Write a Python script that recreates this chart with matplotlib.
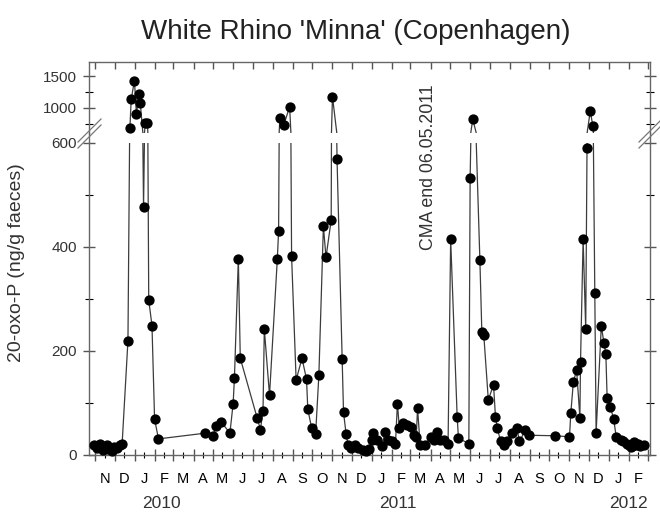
import numpy as np
import pandas as pd
import matplotlib
matplotlib.use('Agg')
import matplotlib.pyplot as plt
import matplotlib.dates as mdates
from matplotlib.lines import Line2D
from matplotlib.ticker import NullFormatter, NullLocator, FuncFormatter

plt.rcParams['font.family'] = ['Liberation Sans', 'DejaVu Sans']

# sampling dates and 20-oxo-P values (ng/g faeces)
dates = ['2009-10-29', '2009-11-03', '2009-11-08', '2009-11-12', '2009-11-18', '2009-11-21',
         '2009-11-26', '2009-11-29', '2009-12-04', '2009-12-08', '2009-12-12', '2009-12-21',
         '2009-12-24', '2009-12-26', '2009-12-31', '2010-01-03', '2010-01-07', '2010-01-09',
         '2010-01-14', '2010-01-17', '2010-01-20', '2010-01-22', '2010-01-27', '2010-01-31',
         '2010-02-06', '2010-04-19', '2010-05-01', '2010-05-06', '2010-05-14', '2010-05-27',
         '2010-06-01', '2010-06-03', '2010-06-09', '2010-06-12', '2010-07-08', '2010-07-13',
         '2010-07-17', '2010-07-19', '2010-07-27', '2010-08-08', '2010-08-10', '2010-08-12',
         '2010-08-18', '2010-08-27', '2010-08-30', '2010-09-06', '2010-09-15', '2010-09-22',
         '2010-09-24', '2010-09-30', '2010-10-06', '2010-10-11', '2010-10-18', '2010-10-22',
         '2010-10-30', '2010-11-01', '2010-11-08', '2010-11-16', '2010-11-18', '2010-11-22',
         '2010-11-25', '2010-11-29', '2010-12-06', '2010-12-11', '2010-12-18', '2010-12-23',
         '2010-12-27', '2011-01-01', '2011-01-03', '2011-01-08', '2011-01-16', '2011-01-21',
         '2011-01-26', '2011-02-01', '2011-02-06', '2011-02-09', '2011-02-12', '2011-02-18',
         '2011-02-24', '2011-03-02', '2011-03-06', '2011-03-10', '2011-03-12', '2011-03-16',
         '2011-03-24', '2011-04-01', '2011-04-06', '2011-04-11', '2011-04-16', '2011-04-21',
         '2011-04-28', '2011-05-02', '2011-05-12', '2011-05-14', '2011-05-30', '2011-06-01',
         '2011-06-05', '2011-06-16', '2011-06-19', '2011-06-22', '2011-06-29', '2011-07-07',
         '2011-07-10', '2011-07-13', '2011-07-18', '2011-07-23', '2011-07-28', '2011-08-05',
         '2011-08-12', '2011-08-16', '2011-08-25', '2011-08-30', '2011-10-10', '2011-11-01',
         '2011-11-03', '2011-11-07', '2011-11-12', '2011-11-17', '2011-11-18', '2011-11-22',
         '2011-11-26', '2011-11-28', '2011-12-03', '2011-12-07', '2011-12-10', '2011-12-12',
         '2011-12-20', '2011-12-24', '2011-12-27', '2011-12-29', '2012-01-03', '2012-01-08',
         '2012-01-12', '2012-01-19', '2012-01-23', '2012-01-28', '2012-01-31', '2012-02-03',
         '2012-02-06', '2012-02-09', '2012-02-12', '2012-02-15', '2012-02-18', '2012-02-23']
values = [19, 13, 22, 10, 19, 11,
          8, 16, 13, 19, 21, 220,
          680, 1136, 1432, 902, 1220, 1072,
          476, 754, 754, 298, 249, 69,
          31, 42, 37, 56, 63, 42,
          99, 149, 377, 186, 71, 49,
          85, 242, 115, 376, 431, 834,
          727, 1018, 383, 144, 186, 146,
          88, 51, 40, 153, 440, 380,
          452, 1177, 569, 184, 82, 40,
          19, 13, 19, 13, 10, 8,
          11, 29, 43, 29, 17, 45,
          29, 26, 22, 99, 51, 61,
          58, 54, 38, 35, 90, 19,
          19, 35, 29, 45, 29, 29,
          22, 415, 74, 32, 22, 532,
          818, 375, 237, 231, 106, 135,
          74, 51, 26, 19, 26, 42,
          51, 26, 48, 38, 37, 35,
          80, 141, 163, 72, 179, 415,
          242, 590, 950, 711, 312, 43,
          248, 216, 194, 109, 93, 69,
          35, 29, 27, 22, 20, 15,
          18, 25, 20, 22, 18, 20]

year_labels = ['2010', '2011', '2012']
year_pos = ['2010-02-10', '2011-02-10', '2012-01-31']

x = pd.to_datetime(dates)
v = np.array(values)
x_start, x_end = pd.Timestamp('2009-10-22'), pd.Timestamp('2012-03-04')
y_break = 600

W, H = 660, 517
def box(x0, y0, x1, y1):
    return [x0 / W, 1 - y1 / H, (x1 - x0) / W, (y1 - y0) / H]

fig = plt.figure(figsize=(6.6, 5.17), dpi=100)
ax_top = fig.add_axes(box(89, 62, 650, 133))
ax = fig.add_axes(box(89, 143, 650, 455))

spine_col = '#666666'
txt_col = '#333333'
for a in (ax, ax_top):
    a.plot(x, v, '-', color='#3c3c3c', lw=0.9, zorder=2)
    a.set_xlim(x_start, x_end)
    for s in a.spines.values():
        s.set_color(spine_col)
        s.set_linewidth(1.0)
    a.tick_params(colors='#555555', labelcolor=txt_col)

# markers: each point only in the panel it belongs to
low = v <= y_break
ax.plot(x[low], v[low], 'o', color='black', ms=6.4, zorder=3, clip_on=False)
ax_top.plot(x[~low], v[~low], 'o', color='black', ms=6.4, zorder=3, clip_on=False)

ax.set_ylim(0, y_break)
ax_top.set_ylim(y_break, 1730)
ax.spines['top'].set_visible(False)
ax_top.spines['bottom'].set_visible(False)

# x axis: month boundaries + month initials at mid-month
ax.xaxis.set_major_locator(mdates.MonthLocator())
ax.xaxis.set_minor_locator(mdates.MonthLocator(bymonthday=15))
ax.xaxis.set_major_formatter(NullFormatter())
ax.xaxis.set_minor_formatter(FuncFormatter(lambda val, p: mdates.num2date(val).strftime('%b')[0]))
ax.tick_params(axis='x', which='major', direction='inout', length=9, width=1.0, top=False)
ax.tick_params(axis='x', which='minor', direction='inout', length=4, width=0.8, top=False,
               pad=10, labelsize=10.5)

ax_top.xaxis.set_major_locator(mdates.MonthLocator())
ax_top.xaxis.set_minor_locator(NullLocator())
ax_top.tick_params(axis='x', which='both', bottom=False, top=True, labelbottom=False,
                   direction='in', length=5, width=1.0)

# y axes
ax.set_yticks([0, 200, 400, 600])
ax.set_yticks([100, 300, 500], minor=True)
ax_top.set_yticks([1000, 1500])
ax_top.set_yticks([750, 1250], minor=True)
for a in (ax, ax_top):
    a.tick_params(axis='y', which='major', direction='inout', length=9, width=1.0,
                  left=True, right=True, labelsize=11, pad=4)
    a.tick_params(axis='y', which='minor', direction='inout', length=6, width=0.8,
                  left=True, right=True)

# year labels
for lab, pos in zip(year_labels, year_pos):
    ax.text(pd.Timestamp(pos), -0.154, lab, transform=ax.get_xaxis_transform(),
            ha='center', va='center', fontsize=12.5, color=txt_col)

# spine continuation through the gap and break marks
for xs in (89, 650):
    fig.add_artist(Line2D([xs / W, xs / W], [1 - 143 / H, 1 - 133 / H], color=spine_col, lw=1.0))
    for off in (0, 6):
        fig.add_artist(Line2D([(xs - 11) / W, (xs + 12) / W],
                              [1 - (142 + off) / H, 1 - (119 + off) / H],
                              color='#777777', lw=0.9))

ax.text(pd.Timestamp('2011-03-29'), 554, 'CMA end 06.05.2011', rotation=90,
        ha='center', va='center', fontsize=12.8, color=txt_col, clip_on=False)

fig.text(17 / W, 1 - 263 / H, '20-oxo-P (ng/g faeces)', rotation=90,
         ha='center', va='center', fontsize=14, color=txt_col)
fig.text(356 / W, 1 - 32 / H, "White Rhino 'Minna' (Copenhagen)",
         ha='center', va='center', fontsize=20, color='#222222')

fig.savefig('out.png', dpi=100)
